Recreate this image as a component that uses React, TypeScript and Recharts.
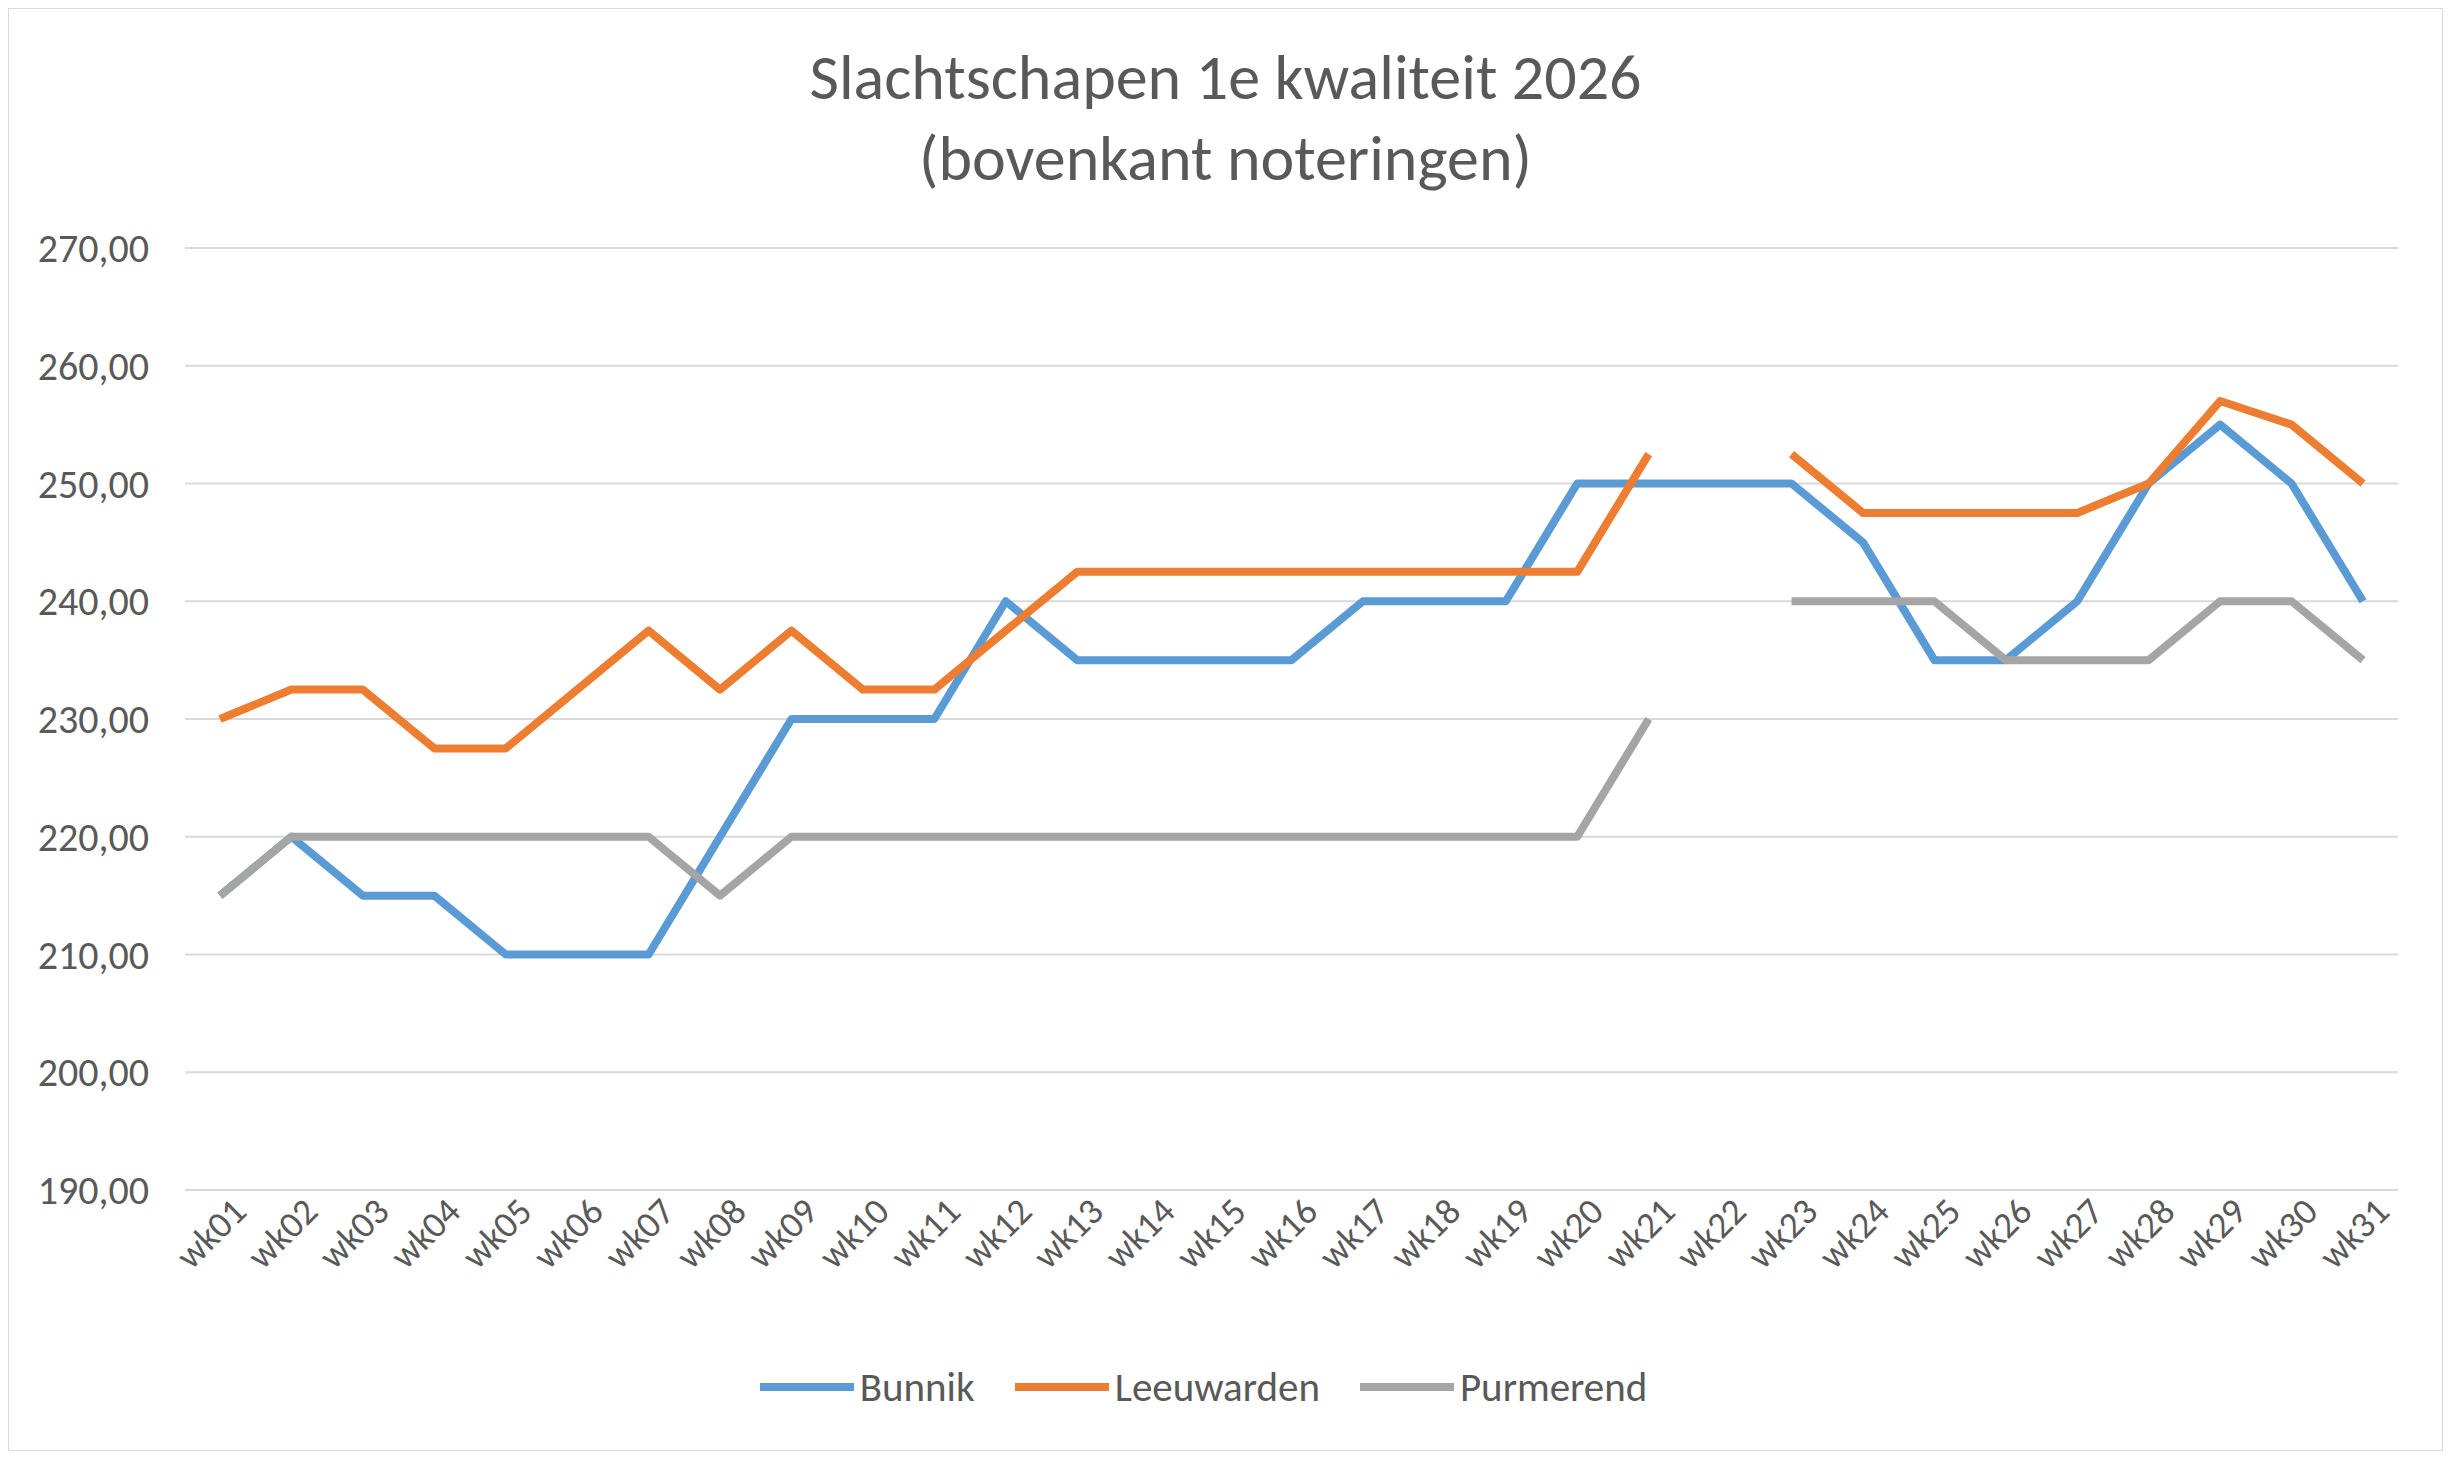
import React from "react";
import { LineChart, Line, XAxis, YAxis, CartesianGrid, Legend } from "recharts";

const weeks = Array.from({ length: 31 }, (_, i) => "wk" + String(i + 1).padStart(2, "0"));
const bunnik = [215,220,215,215,210,210,210,220,230,230,230,240,235,235,235,235,240,240,240,250,250,250,250,245,235,235,240,250,255,250,240];
const leeuwarden = [230,232.5,232.5,227.5,227.5,232.5,237.5,232.5,237.5,232.5,232.5,237.5,242.5,242.5,242.5,242.5,242.5,242.5,242.5,242.5,252.5,null,252.5,247.5,247.5,247.5,247.5,250,257,255,250];
const purmerend = [215,220,220,220,220,220,220,215,220,220,220,220,220,220,220,220,220,220,220,220,230,null,240,240,240,235,235,235,240,240,235];
const yTicks = [190,200,210,220,230,240,250,260,270];

const data = weeks.map((w, i) => ({ week: w, Bunnik: bunnik[i], Leeuwarden: leeuwarden[i], Purmerend: purmerend[i] }));
const series = [
  { key: "Bunnik", color: "#5B9BD5" },
  { key: "Leeuwarden", color: "#ED7D31" },
  { key: "Purmerend", color: "#A5A5A5" },
];
const font = "Carlito, 'Liberation Sans', sans-serif";

const LegendContent = () => (
  <div style={{ display: "flex", justifyContent: "center", gap: 40, fontFamily: font, fontSize: 41, color: "#595959" }}>
    {series.map((s) => (
      <div key={s.key} style={{ display: "flex", alignItems: "center" }}>
        <div style={{ width: 94, height: 8, background: s.color, marginRight: 6 }} />
        {s.key}
      </div>
    ))}
  </div>
);

const XTick = (props: any) => {
  const { x, y, payload } = props;
  return (
    <text x={x} y={y + 10} transform={`rotate(-45 ${x} ${y + 10})`} textAnchor="end" dominantBaseline="hanging"
      fill="#595959" fontSize={37} fontFamily={font} dx={16} dy={-4}>{payload.value}</text>
  );
};

export default function App() {
  return (
    <div style={{ position: "relative", width: 2433, height: 1441, border: "1px solid #d9d9d9", background: "#fff" }}>
      <div style={{ position: "absolute", top: 28, width: "100%", textAlign: "center", fontFamily: font, fontSize: 64, color: "#595959", lineHeight: "81px" }}>
        Slachtschapen 1e kwaliteit 2026<br />(bovenkant noteringen)
      </div>
      <LineChart width={2433} height={1441} data={data} margin={{ top: 239, right: 44, left: 0, bottom: 68 }}>
        <CartesianGrid vertical={false} stroke="#d9d9d9" strokeWidth={2} />
        <XAxis dataKey="week" interval={0} tick={<XTick />} tickLine={false} axisLine={{ stroke: "#d9d9d9", strokeWidth: 2 }} height={142} padding={{ left: 35, right: 35 }} />
        <YAxis domain={[190, 270]} ticks={yTicks} width={176} axisLine={false} tickLine={false}
          tickFormatter={(v: number) => v.toFixed(2).replace(".", ",")}
          tick={{ fill: "#595959", fontSize: 40, fontFamily: font }} tickMargin={30} />
        <Legend content={<LegendContent />} verticalAlign="bottom" wrapperStyle={{ bottom: 38 }} />
        {series.map((s) => (
          <Line key={s.key} dataKey={s.key} stroke={s.color} strokeWidth={8} dot={false} isAnimationActive={false} connectNulls={false} strokeLinejoin="round" />
        ))}
      </LineChart>
    </div>
  );
}
